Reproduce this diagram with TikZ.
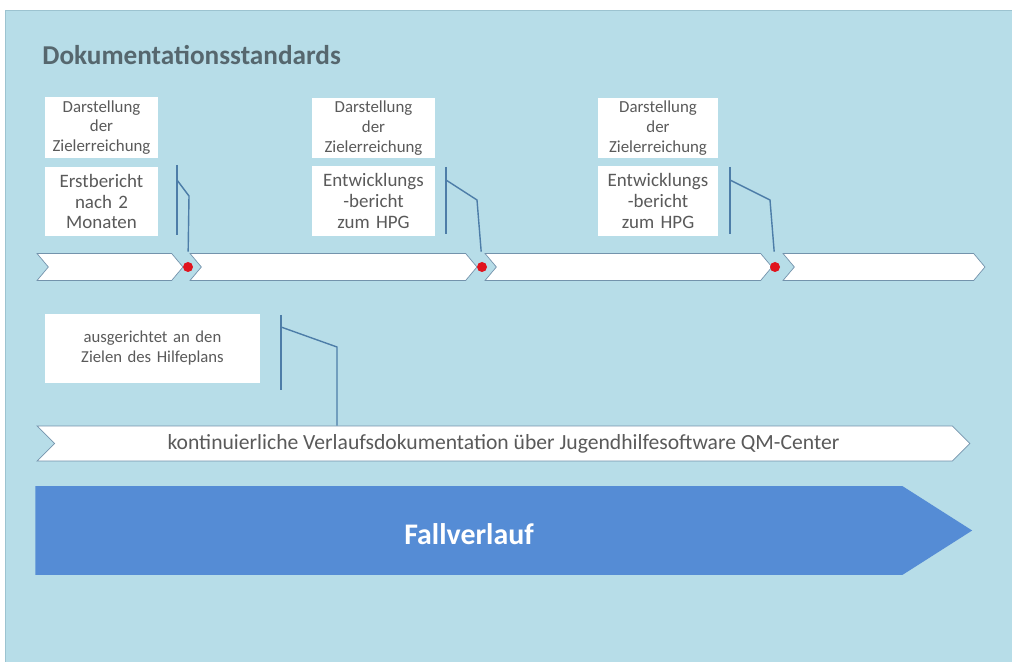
\documentclass[tikz,border=0pt]{standalone}
\usepackage{fontspec}
\setmainfont{Carlito}
\usetikzlibrary{shapes.symbols}

\definecolor{panelblue}{HTML}{B7DDE8}
\definecolor{paneledge}{HTML}{9CC3D0}
\definecolor{chevedge}{HTML}{7393AC}
\definecolor{textgray}{HTML}{5A5A5A}
\definecolor{titlegray}{HTML}{56676E}
\definecolor{leadblue}{HTML}{4D7DA8}
\definecolor{flowblue}{HTML}{558CD5}
\definecolor{dotred}{HTML}{E0141E}

\begin{document}
\begin{tikzpicture}
  [x=0.02cm,y=-0.02cm,
   every node/.style={text=textgray},
   labelbox/.style={fill=white,align=center,inner sep=0pt,font=\fontsize{9.6}{11.2}\selectfont},
   reportbox/.style={labelbox,font=\fontsize{10.8}{11.8}\selectfont},
   phase/.style={signal,signal to=east,signal from=west,signal pointer angle=100,draw=chevedge,fill=white,inner sep=0pt,minimum height=0.54cm},
   milestone/.style={circle,fill=dotred,inner sep=0pt,minimum size=0.2cm},
   leader/.style={draw=leadblue,line width=0.8pt}] % coordinates are in pixels, y runs downwards

  \useasboundingbox (0,0) rectangle (1012,662);
  \fill[white] (0,0) rectangle (1012,662);
  \draw[paneledge,fill=panelblue] (5,10) rectangle (1014,664);

  \node[font=\fontsize{15.5}{17}\selectfont\bfseries,text=titlegray,anchor=west,inner sep=0pt] (title) at (42,55) {Dokumentationsstandards};

  % phases with milestones
  \node[phase,minimum width=2.92cm] (ph1) at (110,267)   {};
  \node[phase,minimum width=5.74cm] (ph2) at (333.5,267) {};
  \node[phase,minimum width=5.74cm] (ph3) at (628.5,267) {};
  \node[phase,minimum width=4.04cm] (ph4) at (884,267)   {};

  \node[milestone] (ms1) at (188,267) {};
  \node[milestone] (ms2) at (482,267) {};
  \node[milestone] (ms3) at (775,267) {};

  % report boxes
  \node[labelbox,text width=2.26cm,minimum height=1.22cm] (goal1) at (101.5,127.5) {Darstellung\\der\\Zielerreichung};
  \node[reportbox,text width=2.26cm,minimum height=1.38cm] (rep1) at (101.5,201.5) {Erstbericht\\nach 2\\Monaten};
  \node[labelbox,text width=2.46cm,minimum height=1.2cm] (goal2) at (373.5,128) {Darstellung\\der\\Zielerreichung};
  \node[reportbox,text width=2.46cm,minimum height=1.4cm] (rep2) at (373.5,201) {Entwicklungs\\-bericht\\zum HPG};
  \node[labelbox,text width=2.4cm,minimum height=1.2cm] (goal3) at (658,128) {Darstellung\\der\\Zielerreichung};
  \node[reportbox,text width=2.4cm,minimum height=1.4cm] (rep3) at (658,201) {Entwicklungs\\-bericht\\zum HPG};

  % callouts
  \coordinate (bar1a) at (177,165);
  \coordinate (bar1b) at (177,235);
  \coordinate (bar1k) at (177,180);
  \draw[leader] (bar1a) -- (bar1b);
  \draw[leader,shorten >=0.2cm] (bar1k) -- (189,196) -- (ms1.north);

  \coordinate (bar2a) at (446,167);
  \coordinate (bar2b) at (446,234);
  \coordinate (bar2k) at (446,180);
  \draw[leader] (bar2a) -- (bar2b);
  \draw[leader,shorten >=0.2cm] (bar2k) -- (477,200) -- (ms2.north);

  \coordinate (bar3a) at (730,167);
  \coordinate (bar3b) at (730,234);
  \coordinate (bar3k) at (730,180);
  \draw[leader] (bar3a) -- (bar3b);
  \draw[leader,shorten >=0.2cm] (bar3k) -- (770,200) -- (ms3.north);

  % continuous documentation
  \node[labelbox,text width=4.3cm,minimum height=1.38cm,font=\fontsize{9.5}{11.4}\selectfont] (aim) at (152.5,348.5) {ausgerichtet an den\\Zielen des Hilfeplans};
  \node[phase,signal pointer angle=90,minimum width=18.66cm,minimum height=0.7cm,font=\fontsize{12.3}{14}\selectfont] (record) at (503.5,443.5) {kontinuierliche Verlaufsdokumentation über Jugendhilfesoftware QM-Center};

  \coordinate (bar4a) at (281,315);
  \coordinate (bar4b) at (281,390);
  \coordinate (bar4k) at (281,327);
  \draw[leader] (bar4a) -- (bar4b);
  \draw[leader] (bar4k) -- (337,347) -- (337,0 |- record.north);

  % case flow
  \node[signal,signal to=east,signal pointer angle=65,fill=flowblue,inner sep=0pt,minimum width=18.74cm,minimum height=1.78cm,anchor=west] (flow) at (35,530.5) {};
  \node[font=\fontsize{17}{19}\selectfont\bfseries,text=white] (flowtext) at (469,534) {Fallverlauf};

\end{tikzpicture}
\end{document}
